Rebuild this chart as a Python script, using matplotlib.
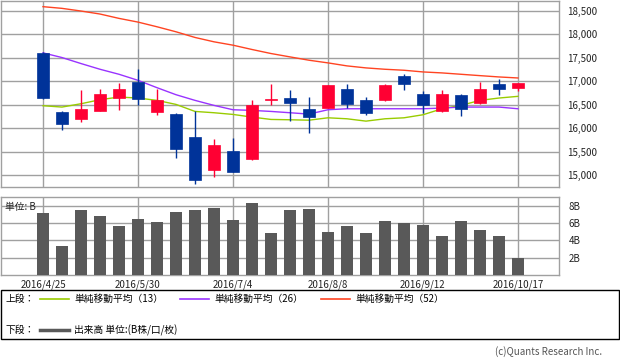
import numpy as np
import matplotlib
matplotlib.use("Agg")
import matplotlib.pyplot as plt
from matplotlib.patches import Rectangle
from matplotlib.lines import Line2D

plt.rcParams['font.family'] = ['Noto Sans CJK JP', 'DejaVu Sans']

# weekly candles, 2016/4/25 .. 2016/10/17
opens = [17607, 16350, 16200, 16371, 16650, 16993, 16350, 16307, 15821, 15114,
         15521, 15343, 16593, 16643, 16414, 16436, 16843, 16607, 16593, 17107,
         16736, 16364, 16700, 16536, 16936, 16857]
highs = [17620, 16357, 16807, 16829, 16957, 17257, 16829, 16320, 16357, 15764,
         15786, 16593, 16936, 16807, 16664, 16914, 16936, 16657, 16936, 17150,
         16793, 16807, 16736, 16986, 17057, 16957]
lows = [16630, 15950, 16122, 16360, 16393, 16493, 16286, 15364, 14814, 14950,
        15060, 15330, 16486, 16143, 15893, 16430, 16436, 16286, 16580, 16821,
        16321, 16350, 16250, 16520, 16700, 16786]
closes = [16643, 16079, 16414, 16722, 16829, 16621, 16593, 15557, 14900, 15650,
          15071, 16486, 16614, 16543, 16236, 16914, 16521, 16329, 16914, 16950,
          16500, 16736, 16414, 16843, 16836, 16957]

ma13 = [16479, 16450, 16521, 16607, 16664, 16643, 16593, 16507, 16357, 16329,
        16293, 16236, 16186, 16179, 16170, 16221, 16200, 16150, 16200, 16221,
        16286, 16414, 16486, 16593, 16643, 16679]
ma26 = [17607, 17507, 17379, 17257, 17150, 17021, 16864, 16714, 16593, 16486,
        16393, 16379, 16357, 16329, 16300, 16393, 16414, 16414, 16414, 16414,
        16414, 16429, 16450, 16450, 16450, 16414]
ma52 = [18593, 18557, 18500, 18436, 18343, 18264, 18164, 18057, 17936, 17843,
        17771, 17679, 17593, 17521, 17450, 17393, 17329, 17286, 17257, 17236,
        17200, 17179, 17150, 17121, 17093, 17071]

volume = [7.15, 3.3, 7.5, 6.85, 5.7, 6.5, 6.15, 7.27, 7.5, 7.73,
          6.38, 8.3, 4.9, 7.5, 7.6, 5.0, 5.7, 4.9, 6.27, 6.04,
          5.8, 4.54, 6.27, 5.23, 4.54, 1.92]

date_ticks = [0, 5, 10, 15, 20, 25]
date_labels = ["2016/4/25", "2016/5/30", "2016/7/4", "2016/8/8", "2016/9/12", "2016/10/17"]
price_ticks = [15000, 15500, 16000, 16500, 17000, 17500, 18000, 18500]
vol_ticks = [2, 4, 6, 8]

RED = "#ff0033"
BLUE = "#003399"
GRID = "#a0a0a0"

W, H = 620, 361
fig = plt.figure(figsize=(W / 100, H / 100), dpi=100)

def box(l, t, r, b):
    return [l / W, 1 - b / H, (r - l) / W, (b - t) / H]

ax = fig.add_axes(box(1, 1, 559, 187))
axv = fig.add_axes(box(1, 197, 559, 275))

x = np.arange(len(opens))
xlim = (-2.21, 27.16)

for a in (ax, axv):
    a.set_xlim(*xlim)
    for s in a.spines.values():
        s.set_color(GRID)
        s.set_linewidth(1.0)
    a.set_axisbelow(True)
    a.yaxis.tick_right()
    a.tick_params(length=0, labelsize=7, colors="#222222")
    for xt in date_ticks:
        a.axvline(xt, color=GRID, lw=1.0, zorder=0)

# price panel
ax.set_ylim(14744, 18714)
ax.set_yticks(price_ticks)
ax.set_yticklabels([f"{v:,}" for v in price_ticks])
ax.tick_params(axis="y", pad=6)
ax.set_xticks([])
for v in price_ticks:
    ax.axhline(v, color=GRID, lw=1.0, zorder=0)

ax.plot(x, ma13, color="#99cc00", lw=1.0, zorder=2)
ax.plot(x, ma26, color="#9933ff", lw=1.0, zorder=2)
ax.plot(x, ma52, color="#ff4422", lw=1.0, zorder=2)

bw = 0.65
for i in range(len(opens)):
    o, h, l, c = opens[i], highs[i], lows[i], closes[i]
    col = RED if c >= o else BLUE
    ax.vlines(i, l, h, color=col, lw=1.0, zorder=3)
    lo = min(o, c)
    hgt = max(abs(c - o), 15)
    ax.add_patch(Rectangle((i - bw / 2, lo), bw, hgt, facecolor=col,
                           edgecolor=col, lw=0.5, zorder=4))

# volume panel
axv.set_ylim(0, 9.0)
axv.set_yticks(vol_ticks)
axv.set_yticklabels([f"{v}B" for v in vol_ticks])
axv.tick_params(axis="y", pad=7)
for v in vol_ticks:
    axv.axhline(v, color=GRID, lw=1.0, zorder=0)
axv.bar(x, volume, width=bw, color="#595959", zorder=3)
axv.set_xticks(date_ticks)
axv.set_xticklabels(date_labels)
axv.tick_params(axis="x", pad=3)
axv.text(0.008, 0.93, "単位: B", transform=axv.transAxes, fontsize=7,
         va="top", ha="left", color="#222222")

# legend box
fig.patches.append(Rectangle((1 / W, 1 - 339 / H), 618 / W, 49 / H,
                             transform=fig.transFigure, fill=False,
                             edgecolor="black", lw=1.0))

def fx(px):
    return px / W

def fy(py):
    return 1 - py / H

ly1, ly2 = 298.5, 330
fig.text(fx(6), fy(ly1), "上段：", fontsize=7, va="center")
fig.text(fx(6), fy(ly2), "下段：", fontsize=7, va="center")
items = [(40, "#99cc00", "単純移動平均（13）"),
         (180, "#9933ff", "単純移動平均（26）"),
         (321, "#ff4422", "単純移動平均（52）")]
for lx, col, lab in items:
    fig.add_artist(Line2D([fx(lx), fx(lx + 29)], [fy(ly1), fy(ly1)], color=col, lw=1.2))
    fig.text(fx(lx + 34), fy(ly1), lab, fontsize=7, va="center")
fig.add_artist(Line2D([fx(40), fx(69)], [fy(ly2), fy(ly2)], color="#595959", lw=2.5))
fig.text(fx(74), fy(ly2), "出来高 単位:(B株/口/枚)", fontsize=7, va="center")

fig.text(fx(602), fy(352), "(c)Quants Research Inc.", fontsize=7, va="center",
         ha="right", color="#555555")

fig.savefig("out.png", dpi=100)
